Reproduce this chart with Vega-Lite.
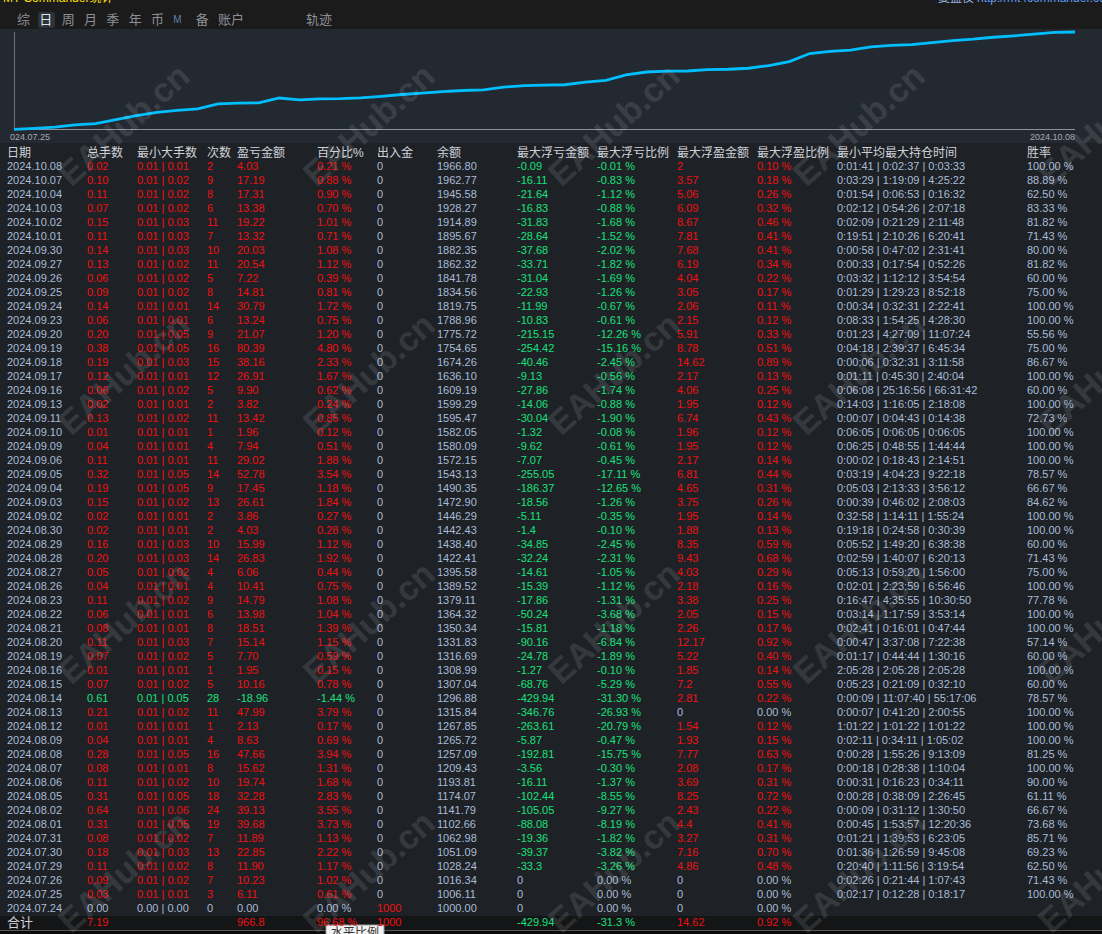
{
  "$schema": "https://vega.github.io/schema/vega-lite/v6.json",
  "width": 1102,
  "height": 934,
  "autosize": {"type": "none"},
  "padding": 0,
  "background": "#1e2227",
  "config": {
    "view": {"stroke": null},
    "axis": {"disable": true},
    "text": {"font": "Liberation Sans, Noto Sans CJK SC, sans-serif", "align": "left", "baseline": "middle"}
  },
  "datasets": {
    "rows": [
      {"r": 0, "date": "日期", "lots": "总手数", "mm": "最小大手数", "n": "次数", "pnl": "盈亏金额", "pct": "百分比%", "io": "出入金", "bal": "余额", "dd": "最大浮亏金额", "ddp": "最大浮亏比例", "fp": "最大浮盈金额", "fpp": "最大浮盈比例", "hold": "最小平均最大持仓时间", "win": "胜率"},
      {"r": 1, "date": "2024.10.08", "lots": "0.02", "mm": "0.01 | 0.01", "n": "2", "pnl": "4.03", "pct": "0.21 %", "io": "0", "bal": "1966.80", "dd": "-0.09", "ddp": "-0.01 %", "fp": "2", "fpp": "0.10 %", "hold": "0:01:41 | 0:02:37 | 0:03:33", "win": "100.00 %"},
      {"r": 2, "date": "2024.10.07", "lots": "0.10", "mm": "0.01 | 0.02", "n": "9", "pnl": "17.19", "pct": "0.88 %", "io": "0", "bal": "1962.77", "dd": "-16.11", "ddp": "-0.83 %", "fp": "3.57", "fpp": "0.18 %", "hold": "0:03:29 | 1:19:09 | 4:25:22", "win": "88.89 %"},
      {"r": 3, "date": "2024.10.04", "lots": "0.11", "mm": "0.01 | 0.02", "n": "8", "pnl": "17.31", "pct": "0.90 %", "io": "0", "bal": "1945.58", "dd": "-21.64", "ddp": "-1.12 %", "fp": "5.06", "fpp": "0.26 %", "hold": "0:01:54 | 0:06:53 | 0:16:32", "win": "62.50 %"},
      {"r": 4, "date": "2024.10.03", "lots": "0.07", "mm": "0.01 | 0.02", "n": "6", "pnl": "13.38", "pct": "0.70 %", "io": "0", "bal": "1928.27", "dd": "-16.83", "ddp": "-0.88 %", "fp": "6.09", "fpp": "0.32 %", "hold": "0:02:12 | 0:54:26 | 2:07:18", "win": "83.33 %"},
      {"r": 5, "date": "2024.10.02", "lots": "0.15", "mm": "0.01 | 0.03", "n": "11", "pnl": "19.22", "pct": "1.01 %", "io": "0", "bal": "1914.89", "dd": "-31.83", "ddp": "-1.68 %", "fp": "8.67", "fpp": "0.46 %", "hold": "0:02:09 | 0:21:29 | 2:11:48", "win": "81.82 %"},
      {"r": 6, "date": "2024.10.01", "lots": "0.11", "mm": "0.01 | 0.03", "n": "7", "pnl": "13.32", "pct": "0.71 %", "io": "0", "bal": "1895.67", "dd": "-28.64", "ddp": "-1.52 %", "fp": "7.81", "fpp": "0.41 %", "hold": "0:19:51 | 2:10:26 | 6:20:41", "win": "71.43 %"},
      {"r": 7, "date": "2024.09.30", "lots": "0.14", "mm": "0.01 | 0.03", "n": "10", "pnl": "20.03", "pct": "1.08 %", "io": "0", "bal": "1882.35", "dd": "-37.68", "ddp": "-2.02 %", "fp": "7.68", "fpp": "0.41 %", "hold": "0:00:58 | 0:47:02 | 2:31:41", "win": "80.00 %"},
      {"r": 8, "date": "2024.09.27", "lots": "0.13", "mm": "0.01 | 0.02", "n": "11", "pnl": "20.54", "pct": "1.12 %", "io": "0", "bal": "1862.32", "dd": "-33.71", "ddp": "-1.82 %", "fp": "6.19", "fpp": "0.34 %", "hold": "0:00:33 | 0:17:54 | 0:52:26", "win": "81.82 %"},
      {"r": 9, "date": "2024.09.26", "lots": "0.06", "mm": "0.01 | 0.02", "n": "5", "pnl": "7.22", "pct": "0.39 %", "io": "0", "bal": "1841.78", "dd": "-31.04", "ddp": "-1.69 %", "fp": "4.04", "fpp": "0.22 %", "hold": "0:03:32 | 1:12:12 | 3:54:54", "win": "60.00 %"},
      {"r": 10, "date": "2024.09.25", "lots": "0.09", "mm": "0.01 | 0.02", "n": "8", "pnl": "14.81", "pct": "0.81 %", "io": "0", "bal": "1834.56", "dd": "-22.93", "ddp": "-1.26 %", "fp": "3.05", "fpp": "0.17 %", "hold": "0:01:29 | 1:29:23 | 8:52:18", "win": "75.00 %"},
      {"r": 11, "date": "2024.09.24", "lots": "0.14", "mm": "0.01 | 0.01", "n": "14", "pnl": "30.79", "pct": "1.72 %", "io": "0", "bal": "1819.75", "dd": "-11.99", "ddp": "-0.67 %", "fp": "2.06", "fpp": "0.11 %", "hold": "0:00:34 | 0:32:31 | 2:22:41", "win": "100.00 %"},
      {"r": 12, "date": "2024.09.23", "lots": "0.06", "mm": "0.01 | 0.01", "n": "6", "pnl": "13.24", "pct": "0.75 %", "io": "0", "bal": "1788.96", "dd": "-10.83", "ddp": "-0.61 %", "fp": "2.15", "fpp": "0.12 %", "hold": "0:08:33 | 1:54:25 | 4:28:30", "win": "100.00 %"},
      {"r": 13, "date": "2024.09.20", "lots": "0.20", "mm": "0.01 | 0.05", "n": "9", "pnl": "21.07", "pct": "1.20 %", "io": "0", "bal": "1775.72", "dd": "-215.15", "ddp": "-12.26 %", "fp": "5.91", "fpp": "0.33 %", "hold": "0:01:23 | 4:27:09 | 11:07:24", "win": "55.56 %"},
      {"r": 14, "date": "2024.09.19", "lots": "0.38", "mm": "0.01 | 0.05", "n": "16", "pnl": "80.39", "pct": "4.80 %", "io": "0", "bal": "1754.65", "dd": "-254.42", "ddp": "-15.16 %", "fp": "8.78", "fpp": "0.51 %", "hold": "0:04:18 | 2:39:37 | 6:45:34", "win": "75.00 %"},
      {"r": 15, "date": "2024.09.18", "lots": "0.19", "mm": "0.01 | 0.03", "n": "15", "pnl": "38.16", "pct": "2.33 %", "io": "0", "bal": "1674.26", "dd": "-40.46", "ddp": "-2.45 %", "fp": "14.62", "fpp": "0.89 %", "hold": "0:00:06 | 0:32:31 | 3:11:58", "win": "86.67 %"},
      {"r": 16, "date": "2024.09.17", "lots": "0.12", "mm": "0.01 | 0.01", "n": "12", "pnl": "26.91", "pct": "1.67 %", "io": "0", "bal": "1636.10", "dd": "-9.13", "ddp": "-0.56 %", "fp": "2.17", "fpp": "0.13 %", "hold": "0:01:11 | 0:45:30 | 2:40:04", "win": "100.00 %"},
      {"r": 17, "date": "2024.09.16", "lots": "0.06", "mm": "0.01 | 0.02", "n": "5", "pnl": "9.90", "pct": "0.62 %", "io": "0", "bal": "1609.19", "dd": "-27.86", "ddp": "-1.74 %", "fp": "4.06", "fpp": "0.25 %", "hold": "0:06:08 | 25:16:56 | 66:31:42", "win": "60.00 %"},
      {"r": 18, "date": "2024.09.13", "lots": "0.02", "mm": "0.01 | 0.01", "n": "2", "pnl": "3.82", "pct": "0.24 %", "io": "0", "bal": "1599.29", "dd": "-14.06", "ddp": "-0.88 %", "fp": "1.95", "fpp": "0.12 %", "hold": "0:14:03 | 1:16:05 | 2:18:08", "win": "100.00 %"},
      {"r": 19, "date": "2024.09.11", "lots": "0.13", "mm": "0.01 | 0.02", "n": "11", "pnl": "13.42", "pct": "0.85 %", "io": "0", "bal": "1595.47", "dd": "-30.04", "ddp": "-1.90 %", "fp": "6.74", "fpp": "0.43 %", "hold": "0:00:07 | 0:04:43 | 0:14:38", "win": "72.73 %"},
      {"r": 20, "date": "2024.09.10", "lots": "0.01", "mm": "0.01 | 0.01", "n": "1", "pnl": "1.96", "pct": "0.12 %", "io": "0", "bal": "1582.05", "dd": "-1.32", "ddp": "-0.08 %", "fp": "1.96", "fpp": "0.12 %", "hold": "0:06:05 | 0:06:05 | 0:06:05", "win": "100.00 %"},
      {"r": 21, "date": "2024.09.09", "lots": "0.04", "mm": "0.01 | 0.01", "n": "4", "pnl": "7.94", "pct": "0.51 %", "io": "0", "bal": "1580.09", "dd": "-9.62", "ddp": "-0.61 %", "fp": "1.95", "fpp": "0.12 %", "hold": "0:06:25 | 0:48:55 | 1:44:44", "win": "100.00 %"},
      {"r": 22, "date": "2024.09.06", "lots": "0.11", "mm": "0.01 | 0.01", "n": "11", "pnl": "29.02", "pct": "1.88 %", "io": "0", "bal": "1572.15", "dd": "-7.07", "ddp": "-0.45 %", "fp": "2.17", "fpp": "0.14 %", "hold": "0:00:02 | 0:18:43 | 2:14:51", "win": "100.00 %"},
      {"r": 23, "date": "2024.09.05", "lots": "0.32", "mm": "0.01 | 0.05", "n": "14", "pnl": "52.78", "pct": "3.54 %", "io": "0", "bal": "1543.13", "dd": "-255.05", "ddp": "-17.11 %", "fp": "6.81", "fpp": "0.44 %", "hold": "0:03:19 | 4:04:23 | 9:22:18", "win": "78.57 %"},
      {"r": 24, "date": "2024.09.04", "lots": "0.19", "mm": "0.01 | 0.05", "n": "9", "pnl": "17.45", "pct": "1.18 %", "io": "0", "bal": "1490.35", "dd": "-186.37", "ddp": "-12.65 %", "fp": "4.65", "fpp": "0.31 %", "hold": "0:05:03 | 2:13:33 | 3:56:12", "win": "66.67 %"},
      {"r": 25, "date": "2024.09.03", "lots": "0.15", "mm": "0.01 | 0.02", "n": "13", "pnl": "26.61", "pct": "1.84 %", "io": "0", "bal": "1472.90", "dd": "-18.56", "ddp": "-1.26 %", "fp": "3.75", "fpp": "0.26 %", "hold": "0:00:39 | 0:46:02 | 2:08:03", "win": "84.62 %"},
      {"r": 26, "date": "2024.09.02", "lots": "0.02", "mm": "0.01 | 0.01", "n": "2", "pnl": "3.86", "pct": "0.27 %", "io": "0", "bal": "1446.29", "dd": "-5.11", "ddp": "-0.35 %", "fp": "1.95", "fpp": "0.14 %", "hold": "0:32:58 | 1:14:11 | 1:55:24", "win": "100.00 %"},
      {"r": 27, "date": "2024.08.30", "lots": "0.02", "mm": "0.01 | 0.01", "n": "2", "pnl": "4.03", "pct": "0.28 %", "io": "0", "bal": "1442.43", "dd": "-1.4", "ddp": "-0.10 %", "fp": "1.88", "fpp": "0.13 %", "hold": "0:19:18 | 0:24:58 | 0:30:39", "win": "100.00 %"},
      {"r": 28, "date": "2024.08.29", "lots": "0.16", "mm": "0.01 | 0.03", "n": "10", "pnl": "15.99", "pct": "1.12 %", "io": "0", "bal": "1438.40", "dd": "-34.85", "ddp": "-2.45 %", "fp": "8.35", "fpp": "0.59 %", "hold": "0:05:52 | 1:49:20 | 6:38:38", "win": "60.00 %"},
      {"r": 29, "date": "2024.08.28", "lots": "0.20", "mm": "0.01 | 0.03", "n": "14", "pnl": "26.83", "pct": "1.92 %", "io": "0", "bal": "1422.41", "dd": "-32.24", "ddp": "-2.31 %", "fp": "9.43", "fpp": "0.68 %", "hold": "0:02:59 | 1:40:07 | 6:20:13", "win": "71.43 %"},
      {"r": 30, "date": "2024.08.27", "lots": "0.05", "mm": "0.01 | 0.02", "n": "4", "pnl": "6.06", "pct": "0.44 %", "io": "0", "bal": "1395.58", "dd": "-14.61", "ddp": "-1.05 %", "fp": "4.03", "fpp": "0.29 %", "hold": "0:05:13 | 0:59:20 | 1:56:00", "win": "75.00 %"},
      {"r": 31, "date": "2024.08.26", "lots": "0.04", "mm": "0.01 | 0.01", "n": "4", "pnl": "10.41", "pct": "0.75 %", "io": "0", "bal": "1389.52", "dd": "-15.39", "ddp": "-1.12 %", "fp": "2.18", "fpp": "0.16 %", "hold": "0:02:01 | 2:23:59 | 6:56:46", "win": "100.00 %"},
      {"r": 32, "date": "2024.08.23", "lots": "0.11", "mm": "0.01 | 0.02", "n": "9", "pnl": "14.79", "pct": "1.08 %", "io": "0", "bal": "1379.11", "dd": "-17.86", "ddp": "-1.31 %", "fp": "3.38", "fpp": "0.25 %", "hold": "0:16:47 | 4:35:55 | 10:30:50", "win": "77.78 %"},
      {"r": 33, "date": "2024.08.22", "lots": "0.06", "mm": "0.01 | 0.01", "n": "6", "pnl": "13.98", "pct": "1.04 %", "io": "0", "bal": "1364.32", "dd": "-50.24", "ddp": "-3.68 %", "fp": "2.05", "fpp": "0.15 %", "hold": "0:03:14 | 1:17:59 | 3:53:14", "win": "100.00 %"},
      {"r": 34, "date": "2024.08.21", "lots": "0.08", "mm": "0.01 | 0.01", "n": "8", "pnl": "18.51", "pct": "1.39 %", "io": "0", "bal": "1350.34", "dd": "-15.81", "ddp": "-1.18 %", "fp": "2.26", "fpp": "0.17 %", "hold": "0:02:41 | 0:16:01 | 0:47:44", "win": "100.00 %"},
      {"r": 35, "date": "2024.08.20", "lots": "0.11", "mm": "0.01 | 0.03", "n": "7", "pnl": "15.14", "pct": "1.15 %", "io": "0", "bal": "1331.83", "dd": "-90.16", "ddp": "-6.84 %", "fp": "12.17", "fpp": "0.92 %", "hold": "0:00:47 | 3:37:08 | 7:22:38", "win": "57.14 %"},
      {"r": 36, "date": "2024.08.19", "lots": "0.07", "mm": "0.01 | 0.02", "n": "5", "pnl": "7.70", "pct": "0.59 %", "io": "0", "bal": "1316.69", "dd": "-24.78", "ddp": "-1.89 %", "fp": "5.22", "fpp": "0.40 %", "hold": "0:01:17 | 0:44:44 | 1:30:16", "win": "60.00 %"},
      {"r": 37, "date": "2024.08.16", "lots": "0.01", "mm": "0.01 | 0.01", "n": "1", "pnl": "1.95", "pct": "0.15 %", "io": "0", "bal": "1308.99", "dd": "-1.27", "ddp": "-0.10 %", "fp": "1.85", "fpp": "0.14 %", "hold": "2:05:28 | 2:05:28 | 2:05:28", "win": "100.00 %"},
      {"r": 38, "date": "2024.08.15", "lots": "0.07", "mm": "0.01 | 0.02", "n": "5", "pnl": "10.16", "pct": "0.78 %", "io": "0", "bal": "1307.04", "dd": "-68.76", "ddp": "-5.29 %", "fp": "7.2", "fpp": "0.55 %", "hold": "0:05:23 | 0:21:09 | 0:32:10", "win": "60.00 %"},
      {"r": 39, "date": "2024.08.14", "lots": "0.61", "mm": "0.01 | 0.05", "n": "28", "pnl": "-18.96", "pct": "-1.44 %", "io": "0", "bal": "1296.88", "dd": "-429.94", "ddp": "-31.30 %", "fp": "2.81", "fpp": "0.22 %", "hold": "0:00:09 | 11:07:40 | 55:17:06", "win": "78.57 %"},
      {"r": 40, "date": "2024.08.13", "lots": "0.21", "mm": "0.01 | 0.02", "n": "11", "pnl": "47.99", "pct": "3.79 %", "io": "0", "bal": "1315.84", "dd": "-346.76", "ddp": "-26.93 %", "fp": "0", "fpp": "0.00 %", "hold": "0:00:07 | 0:41:20 | 2:00:55", "win": "100.00 %"},
      {"r": 41, "date": "2024.08.12", "lots": "0.01", "mm": "0.01 | 0.01", "n": "1", "pnl": "2.13", "pct": "0.17 %", "io": "0", "bal": "1267.85", "dd": "-263.61", "ddp": "-20.79 %", "fp": "1.54", "fpp": "0.12 %", "hold": "1:01:22 | 1:01:22 | 1:01:22", "win": "100.00 %"},
      {"r": 42, "date": "2024.08.09", "lots": "0.04", "mm": "0.01 | 0.01", "n": "4", "pnl": "8.63", "pct": "0.69 %", "io": "0", "bal": "1265.72", "dd": "-5.87", "ddp": "-0.47 %", "fp": "1.93", "fpp": "0.15 %", "hold": "0:02:11 | 0:34:11 | 1:05:02", "win": "100.00 %"},
      {"r": 43, "date": "2024.08.08", "lots": "0.28", "mm": "0.01 | 0.05", "n": "16", "pnl": "47.66", "pct": "3.94 %", "io": "0", "bal": "1257.09", "dd": "-192.81", "ddp": "-15.75 %", "fp": "7.77", "fpp": "0.63 %", "hold": "0:00:28 | 1:55:26 | 9:13:09", "win": "81.25 %"},
      {"r": 44, "date": "2024.08.07", "lots": "0.08", "mm": "0.01 | 0.01", "n": "8", "pnl": "15.62", "pct": "1.31 %", "io": "0", "bal": "1209.43", "dd": "-3.56", "ddp": "-0.30 %", "fp": "2.08", "fpp": "0.17 %", "hold": "0:00:18 | 0:28:38 | 1:10:04", "win": "100.00 %"},
      {"r": 45, "date": "2024.08.06", "lots": "0.11", "mm": "0.01 | 0.02", "n": "10", "pnl": "19.74", "pct": "1.68 %", "io": "0", "bal": "1193.81", "dd": "-16.11", "ddp": "-1.37 %", "fp": "3.69", "fpp": "0.31 %", "hold": "0:00:31 | 0:16:23 | 0:34:11", "win": "90.00 %"},
      {"r": 46, "date": "2024.08.05", "lots": "0.31", "mm": "0.01 | 0.05", "n": "18", "pnl": "32.28", "pct": "2.83 %", "io": "0", "bal": "1174.07", "dd": "-102.44", "ddp": "-8.55 %", "fp": "8.25", "fpp": "0.72 %", "hold": "0:00:28 | 0:38:09 | 2:26:45", "win": "61.11 %"},
      {"r": 47, "date": "2024.08.02", "lots": "0.64", "mm": "0.01 | 0.06", "n": "24", "pnl": "39.13", "pct": "3.55 %", "io": "0", "bal": "1141.79", "dd": "-105.05", "ddp": "-9.27 %", "fp": "2.43", "fpp": "0.22 %", "hold": "0:00:09 | 0:31:12 | 1:30:50", "win": "66.67 %"},
      {"r": 48, "date": "2024.08.01", "lots": "0.31", "mm": "0.01 | 0.05", "n": "19", "pnl": "39.68", "pct": "3.73 %", "io": "0", "bal": "1102.66", "dd": "-88.08", "ddp": "-8.19 %", "fp": "4.4", "fpp": "0.41 %", "hold": "0:00:45 | 1:53:57 | 12:20:36", "win": "73.68 %"},
      {"r": 49, "date": "2024.07.31", "lots": "0.08", "mm": "0.01 | 0.02", "n": "7", "pnl": "11.89", "pct": "1.13 %", "io": "0", "bal": "1062.98", "dd": "-19.36", "ddp": "-1.82 %", "fp": "3.27", "fpp": "0.31 %", "hold": "0:01:21 | 1:39:53 | 6:23:05", "win": "85.71 %"},
      {"r": 50, "date": "2024.07.30", "lots": "0.18", "mm": "0.01 | 0.03", "n": "13", "pnl": "22.85", "pct": "2.22 %", "io": "0", "bal": "1051.09", "dd": "-39.37", "ddp": "-3.82 %", "fp": "7.16", "fpp": "0.70 %", "hold": "0:01:36 | 1:26:59 | 9:45:08", "win": "69.23 %"},
      {"r": 51, "date": "2024.07.29", "lots": "0.11", "mm": "0.01 | 0.02", "n": "8", "pnl": "11.90", "pct": "1.17 %", "io": "0", "bal": "1028.24", "dd": "-33.3", "ddp": "-3.26 %", "fp": "4.86", "fpp": "0.48 %", "hold": "0:20:40 | 1:11:56 | 3:19:54", "win": "62.50 %"},
      {"r": 52, "date": "2024.07.26", "lots": "0.09", "mm": "0.01 | 0.02", "n": "7", "pnl": "10.23", "pct": "1.02 %", "io": "0", "bal": "1016.34", "dd": "0", "ddp": "0.00 %", "fp": "0", "fpp": "0.00 %", "hold": "0:02:26 | 0:21:44 | 1:07:43", "win": "71.43 %"},
      {"r": 53, "date": "2024.07.25", "lots": "0.03", "mm": "0.01 | 0.01", "n": "3", "pnl": "6.11", "pct": "0.61 %", "io": "0", "bal": "1006.11", "dd": "0", "ddp": "0.00 %", "fp": "0", "fpp": "0.00 %", "hold": "0:02:17 | 0:12:28 | 0:18:17", "win": "100.00 %"},
      {"r": 54, "date": "2024.07.24", "lots": "0.00", "mm": "0.00 | 0.00", "n": "0", "pnl": "0.00", "pct": "0.00 %", "io": "1000", "bal": "1000.00", "dd": "0", "ddp": "0.00 %", "fp": "0", "fpp": "0.00 %", "hold": "", "win": ""},
      {"r": 55, "date": "合计", "lots": "7.19", "mm": "", "n": "", "pnl": "966.8", "pct": "96.68 %", "io": "1000", "bal": "", "dd": "-429.94", "ddp": "-31.3 %", "fp": "14.62", "fpp": "0.92 %", "hold": "", "win": ""}
    ],
    "tabs": [
      {"tab": "综"}, {"tab": "日"}, {"tab": "周"}, {"tab": "月"}, {"tab": "季"},
      {"tab": "年"}, {"tab": "币"}, {"tab": "M"}, {"tab": "备"}, {"tab": "账户"}
    ],
    "stamps": [
      {"gx": 0, "gy": 0}, {"gx": 1, "gy": 0}, {"gx": 2, "gy": 0}, {"gx": 3, "gy": 0}, {"gx": 4, "gy": 0},
      {"gx": 0, "gy": 1}, {"gx": 1, "gy": 1}, {"gx": 2, "gy": 1}, {"gx": 3, "gy": 1}, {"gx": 4, "gy": 1},
      {"gx": 0, "gy": 2}, {"gx": 1, "gy": 2}, {"gx": 2, "gy": 2}, {"gx": 3, "gy": 2}, {"gx": 4, "gy": 2},
      {"gx": 0, "gy": 3}, {"gx": 1, "gy": 3}, {"gx": 2, "gy": 3}, {"gx": 3, "gy": 3}, {"gx": 4, "gy": 3}
    ]
  },
  "layer": [
    {
      "data": {"values": [{}]},
      "layer": [
        {"mark": {"type": "rect", "color": "#1b1b1c"}, "encoding": {"x": {"datum": 0, "type": "quantitative", "scale": {"domain": [0, 1102], "nice": false, "zero": false}}, "x2": {"datum": 1102}, "y": {"datum": 0, "type": "quantitative", "scale": {"domain": [0, 934], "range": [0, 934], "nice": false, "zero": false}}, "y2": {"datum": 29}}},
        {"mark": {"type": "rect", "color": "#232931"}, "encoding": {"x": {"datum": 0, "type": "quantitative"}, "x2": {"datum": 1102}, "y": {"datum": 29, "type": "quantitative"}, "y2": {"datum": 143}}},
        {"mark": {"type": "rect", "color": "#2c333c", "cornerRadius": 2}, "encoding": {"x": {"datum": 38, "type": "quantitative"}, "x2": {"datum": 55}, "y": {"datum": 12, "type": "quantitative"}, "y2": {"datum": 28}}},
        {"mark": {"type": "rect", "color": "#141517"}, "encoding": {"x": {"datum": 0, "type": "quantitative"}, "x2": {"datum": 1102}, "y": {"datum": 916, "type": "quantitative"}, "y2": {"datum": 930}}},
        {"mark": {"type": "rect", "color": "#0b0b0b"}, "encoding": {"x": {"datum": 0, "type": "quantitative"}, "x2": {"datum": 1102}, "y": {"datum": 930, "type": "quantitative"}, "y2": {"datum": 934}}},
        {"mark": {"type": "rule", "color": "#55595e", "strokeWidth": 1}, "encoding": {"x": {"datum": 0, "type": "quantitative"}, "x2": {"datum": 1102}, "y": {"datum": 930.5, "type": "quantitative"}}},
        {"mark": {"type": "rule", "color": "#6e737a", "strokeWidth": 1}, "encoding": {"x": {"datum": 14.5, "type": "quantitative"}, "y": {"datum": 32, "type": "quantitative"}, "y2": {"datum": 129}}},
        {"mark": {"type": "rule", "color": "#8c9198", "strokeWidth": 1}, "encoding": {"x": {"datum": 14, "type": "quantitative"}, "x2": {"datum": 1075}, "y": {"datum": 129.5, "type": "quantitative"}}},
        {"mark": {"type": "text", "baseline": "bottom", "fontSize": 12, "color": "#ffe100"}, "encoding": {"x": {"datum": 3, "type": "quantitative"}, "y": {"datum": 5, "type": "quantitative"}, "text": {"value": "MT Commander统计"}}},
        {"mark": {"type": "text", "baseline": "bottom", "fontSize": 12, "color": "#9bb8e4"}, "encoding": {"x": {"datum": 938, "type": "quantitative"}, "y": {"datum": 5, "type": "quantitative"}, "text": {"value": "复盘仪"}}},
        {"mark": {"type": "text", "baseline": "bottom", "fontSize": 12, "color": "#5d9cf5"}, "encoding": {"x": {"datum": 977, "type": "quantitative"}, "y": {"datum": 5, "type": "quantitative"}, "text": {"value": "http://mt4commander.com"}}},
        {"mark": {"type": "text", "fontSize": 13, "color": "#8b9097"}, "encoding": {"x": {"datum": 306, "type": "quantitative"}, "y": {"datum": 20, "type": "quantitative"}, "text": {"value": "轨迹"}}},
        {"mark": {"type": "text", "fontSize": 9, "color": "#a3a9b1"}, "encoding": {"x": {"datum": 10, "type": "quantitative"}, "y": {"datum": 137, "type": "quantitative"}, "text": {"value": "024.07.25"}}},
        {"mark": {"type": "text", "align": "right", "fontSize": 9, "color": "#a3a9b1"}, "encoding": {"x": {"datum": 1075, "type": "quantitative"}, "y": {"datum": 137, "type": "quantitative"}, "text": {"value": "2024.10.08"}}},
        {"mark": {"type": "rect", "color": "#f2f2f2", "stroke": "#9a9a9a", "strokeWidth": 1}, "encoding": {"x": {"datum": 326, "type": "quantitative"}, "x2": {"datum": 384}, "y": {"datum": 925, "type": "quantitative"}, "y2": {"datum": 940}}},
        {"mark": {"type": "text", "baseline": "top", "fontSize": 12, "color": "#333333"}, "encoding": {"x": {"datum": 331, "type": "quantitative"}, "y": {"datum": 928, "type": "quantitative"}, "text": {"value": "水平比例"}}}
      ]
    },
    {
      "data": {"name": "tabs"},
      "mark": {"type": "text", "align": "left"},
      "encoding": {
        "x": {"field": "tab", "type": "nominal", "sort": null, "scale": {"type": "point", "range": [17, 218], "padding": 0}},
        "y": {"datum": 20, "type": "quantitative", "scale": {"domain": [0, 934], "range": [0, 934], "nice": false, "zero": false}},
        "text": {"field": "tab"},
        "color": {"condition": [{"test": "datum.tab == '日'", "value": "#dfe3e8"}, {"test": "datum.tab == 'M'", "value": "#5f80aa"}], "value": "#8b9097"},
        "size": {"condition": {"test": "datum.tab == 'M'", "value": 10}, "value": 13}
      }
    },
    {
      "data": {"name": "rows"},
      "transform": [{"filter": {"field": "r", "range": [1, 53]}}],
      "mark": {"type": "line", "color": "#00bfff", "strokeWidth": 2.8},
      "encoding": {
        "x": {"field": "date", "type": "ordinal", "sort": "ascending", "scale": {"type": "point", "range": [14, 1075], "padding": 0}},
        "y": {"field": "bal", "type": "quantitative", "scale": {"domain": [1000, 1966.8], "range": [130, 32], "nice": false, "zero": false}}
      }
    },
    {
      "data": {"name": "rows"},
      "encoding": {
        "y": {"field": "r", "type": "quantitative", "scale": {"domain": [0, 55], "range": [153, 923], "nice": false, "zero": false}}
      },
      "layer": [
        {"mark": "text", "encoding": {"x": {"datum": 7, "type": "quantitative", "scale": {"domain": [0, 1102], "nice": false, "zero": false}}, "text": {"field": "date"},
          "color": {"condition": {"test": "datum.r == 0 || datum.r == 55", "value": "#cfd3d9"}, "value": "#a9bcd6"},
          "size": {"condition": [{"test": "datum.r == 0", "value": 12}, {"test": "datum.r == 55", "value": 13}], "value": 11}}},
        {"mark": "text", "encoding": {"x": {"datum": 87, "type": "quantitative", "scale": {"domain": [0, 1102], "nice": false, "zero": false}}, "text": {"field": "lots"},
          "color": {"condition": [{"test": "datum.r == 0", "value": "#cfd3d9"}, {"test": "parseFloat(datum.pnl) > 0", "value": "#f01010"}, {"test": "parseFloat(datum.pnl) < 0", "value": "#19e07a"}], "value": "#a9bcd6"},
          "size": {"condition": {"test": "datum.r == 0", "value": 12}, "value": 11}}},
        {"mark": "text", "encoding": {"x": {"datum": 137, "type": "quantitative", "scale": {"domain": [0, 1102], "nice": false, "zero": false}}, "text": {"field": "mm"},
          "color": {"condition": [{"test": "datum.r == 0", "value": "#cfd3d9"}, {"test": "parseFloat(datum.pnl) > 0", "value": "#f01010"}, {"test": "parseFloat(datum.pnl) < 0", "value": "#19e07a"}], "value": "#a9bcd6"},
          "size": {"condition": {"test": "datum.r == 0", "value": 12}, "value": 11}}},
        {"mark": "text", "encoding": {"x": {"datum": 207, "type": "quantitative", "scale": {"domain": [0, 1102], "nice": false, "zero": false}}, "text": {"field": "n"},
          "color": {"condition": [{"test": "datum.r == 0", "value": "#cfd3d9"}, {"test": "parseFloat(datum.pnl) > 0", "value": "#f01010"}, {"test": "parseFloat(datum.pnl) < 0", "value": "#19e07a"}], "value": "#a9bcd6"},
          "size": {"condition": {"test": "datum.r == 0", "value": 12}, "value": 11}}},
        {"mark": "text", "encoding": {"x": {"datum": 237, "type": "quantitative", "scale": {"domain": [0, 1102], "nice": false, "zero": false}}, "text": {"field": "pnl"},
          "color": {"condition": [{"test": "datum.r == 0", "value": "#cfd3d9"}, {"test": "parseFloat(datum.pnl) > 0", "value": "#f01010"}, {"test": "parseFloat(datum.pnl) < 0", "value": "#19e07a"}], "value": "#a9bcd6"},
          "size": {"condition": {"test": "datum.r == 0", "value": 12}, "value": 11}}},
        {"mark": "text", "encoding": {"x": {"datum": 317, "type": "quantitative", "scale": {"domain": [0, 1102], "nice": false, "zero": false}}, "text": {"field": "pct"},
          "color": {"condition": [{"test": "datum.r == 0", "value": "#cfd3d9"}, {"test": "parseFloat(datum.pnl) > 0", "value": "#f01010"}, {"test": "parseFloat(datum.pnl) < 0", "value": "#19e07a"}], "value": "#a9bcd6"},
          "size": {"condition": {"test": "datum.r == 0", "value": 12}, "value": 11}}},
        {"mark": "text", "encoding": {"x": {"datum": 377, "type": "quantitative", "scale": {"domain": [0, 1102], "nice": false, "zero": false}}, "text": {"field": "io"},
          "color": {"condition": [{"test": "datum.r == 0", "value": "#cfd3d9"}, {"test": "parseFloat(datum.io) > 0", "value": "#f01010"}], "value": "#a9bcd6"},
          "size": {"condition": {"test": "datum.r == 0", "value": 12}, "value": 11}}},
        {"mark": "text", "encoding": {"x": {"datum": 437, "type": "quantitative", "scale": {"domain": [0, 1102], "nice": false, "zero": false}}, "text": {"field": "bal"},
          "color": {"condition": {"test": "datum.r == 0", "value": "#cfd3d9"}, "value": "#a9bcd6"},
          "size": {"condition": {"test": "datum.r == 0", "value": 12}, "value": 11}}},
        {"mark": "text", "encoding": {"x": {"datum": 517, "type": "quantitative", "scale": {"domain": [0, 1102], "nice": false, "zero": false}}, "text": {"field": "dd"},
          "color": {"condition": [{"test": "datum.r == 0", "value": "#cfd3d9"}, {"test": "parseFloat(datum.dd) < 0", "value": "#19e07a"}], "value": "#a9bcd6"},
          "size": {"condition": {"test": "datum.r == 0", "value": 12}, "value": 11}}},
        {"mark": "text", "encoding": {"x": {"datum": 597, "type": "quantitative", "scale": {"domain": [0, 1102], "nice": false, "zero": false}}, "text": {"field": "ddp"},
          "color": {"condition": [{"test": "datum.r == 0", "value": "#cfd3d9"}, {"test": "parseFloat(datum.dd) < 0", "value": "#19e07a"}], "value": "#a9bcd6"},
          "size": {"condition": {"test": "datum.r == 0", "value": 12}, "value": 11}}},
        {"mark": "text", "encoding": {"x": {"datum": 677, "type": "quantitative", "scale": {"domain": [0, 1102], "nice": false, "zero": false}}, "text": {"field": "fp"},
          "color": {"condition": [{"test": "datum.r == 0", "value": "#cfd3d9"}, {"test": "parseFloat(datum.fp) > 0", "value": "#f01010"}], "value": "#a9bcd6"},
          "size": {"condition": {"test": "datum.r == 0", "value": 12}, "value": 11}}},
        {"mark": "text", "encoding": {"x": {"datum": 757, "type": "quantitative", "scale": {"domain": [0, 1102], "nice": false, "zero": false}}, "text": {"field": "fpp"},
          "color": {"condition": [{"test": "datum.r == 0", "value": "#cfd3d9"}, {"test": "parseFloat(datum.fp) > 0", "value": "#f01010"}], "value": "#a9bcd6"},
          "size": {"condition": {"test": "datum.r == 0", "value": 12}, "value": 11}}},
        {"mark": "text", "encoding": {"x": {"datum": 837, "type": "quantitative", "scale": {"domain": [0, 1102], "nice": false, "zero": false}}, "text": {"field": "hold"},
          "color": {"condition": {"test": "datum.r == 0", "value": "#cfd3d9"}, "value": "#a9bcd6"},
          "size": {"condition": {"test": "datum.r == 0", "value": 12}, "value": 11}}},
        {"mark": "text", "encoding": {"x": {"datum": 1027, "type": "quantitative", "scale": {"domain": [0, 1102], "nice": false, "zero": false}}, "text": {"field": "win"},
          "color": {"condition": {"test": "datum.r == 0", "value": "#cfd3d9"}, "value": "#a9bcd6"},
          "size": {"condition": {"test": "datum.r == 0", "value": 12}, "value": 11}}}
      ]
    },
    {
      "data": {"name": "stamps"},
      "mark": {"type": "text", "align": "center", "baseline": "middle", "angle": 318, "fontSize": 34, "fontWeight": "bold", "font": "Liberation Sans", "color": "#ffffff", "opacity": 0.1},
      "encoding": {
        "x": {"field": "gx", "type": "quantitative", "scale": {"domain": [0, 4], "range": [125, 1105], "nice": false, "zero": false}},
        "y": {"field": "gy", "type": "quantitative", "scale": {"domain": [0, 3], "range": [126, 873], "nice": false, "zero": false}},
        "text": {"value": "EAHub.cn"}
      }
    }
  ],
  "resolve": {"scale": {"x": "independent", "y": "independent"}}
}
